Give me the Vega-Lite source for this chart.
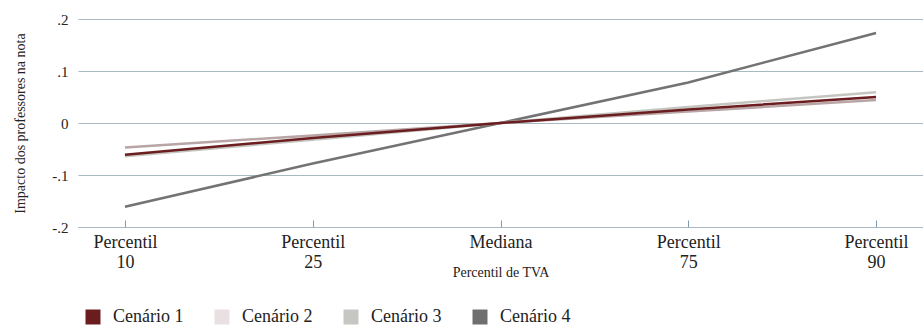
{
  "$schema": "https://vega.github.io/schema/vega-lite/v6.json",
  "width": 845,
  "height": 208,
  "autosize": {"type": "none"},
  "padding": {"left": 78, "top": 19, "right": 0, "bottom": 99},
  "background": "white",
  "config": {
    "view": {"stroke": null},
    "font": "Liberation Serif",
    "axis": {"labelFont": "Liberation Serif", "titleFont": "Liberation Serif"},
    "legend": {"labelFont": "Liberation Serif", "titleFont": "Liberation Serif"}
  },
  "data": {
    "values": [
      {"percentil": "Percentil 10", "cenario": "Cenário 4", "impacto": -0.161},
      {"percentil": "Percentil 25", "cenario": "Cenário 4", "impacto": -0.078},
      {"percentil": "Mediana", "cenario": "Cenário 4", "impacto": 0},
      {"percentil": "Percentil 75", "cenario": "Cenário 4", "impacto": 0.078},
      {"percentil": "Percentil 90", "cenario": "Cenário 4", "impacto": 0.173},
      {"percentil": "Percentil 10", "cenario": "Cenário 3", "impacto": -0.064},
      {"percentil": "Percentil 25", "cenario": "Cenário 3", "impacto": -0.032},
      {"percentil": "Mediana", "cenario": "Cenário 3", "impacto": 0},
      {"percentil": "Percentil 75", "cenario": "Cenário 3", "impacto": 0.031},
      {"percentil": "Percentil 90", "cenario": "Cenário 3", "impacto": 0.059},
      {"percentil": "Percentil 10", "cenario": "Cenário 2", "impacto": -0.047},
      {"percentil": "Percentil 25", "cenario": "Cenário 2", "impacto": -0.024},
      {"percentil": "Mediana", "cenario": "Cenário 2", "impacto": 0},
      {"percentil": "Percentil 75", "cenario": "Cenário 2", "impacto": 0.022},
      {"percentil": "Percentil 90", "cenario": "Cenário 2", "impacto": 0.044},
      {"percentil": "Percentil 10", "cenario": "Cenário 1", "impacto": -0.061},
      {"percentil": "Percentil 25", "cenario": "Cenário 1", "impacto": -0.029},
      {"percentil": "Mediana", "cenario": "Cenário 1", "impacto": 0},
      {"percentil": "Percentil 75", "cenario": "Cenário 1", "impacto": 0.026},
      {"percentil": "Percentil 90", "cenario": "Cenário 1", "impacto": 0.05}
    ]
  },
  "mark": {"type": "line", "strokeWidth": 2.5},
  "encoding": {
    "x": {
      "field": "percentil",
      "type": "ordinal",
      "sort": ["Percentil 10", "Percentil 25", "Mediana", "Percentil 75", "Percentil 90"],
      "scale": {"type": "point", "padding": 0.25},
      "axis": {
        "title": "Percentil de TVA",
        "labelExpr": "split(datum.label, ' ')",
        "labelAngle": 0,
        "labelFont": "Liberation Serif",
        "labelFontSize": 18,
        "labelLineHeight": 20,
        "labelColor": "#222222",
        "labelBaseline": "top",
        "labelPadding": 13,
        "tickSize": -7,
        "tickColor": "#7f9aa6",
        "domainColor": "#a7b9c1",
        "grid": false,
        "titleFont": "Liberation Serif",
        "titleFontSize": 14,
        "titleFontWeight": "normal",
        "titleColor": "#222222",
        "titlePadding": -6
      }
    },
    "y": {
      "field": "impacto",
      "type": "quantitative",
      "scale": {"domain": [-0.2, 0.2], "nice": false, "zero": false},
      "axis": {
        "title": "Impacto dos professores na nota",
        "values": [-0.2, -0.1, 0, 0.1, 0.2],
        "labelExpr": "datum.value == 0 ? '0' : (datum.value < 0 ? '-' : '') + replace(format(abs(datum.value), '.1f'), '0.', '.')",
        "ticks": false,
        "domain": false,
        "gridColor": "#a7b9c1",
        "gridWidth": 1,
        "labelFont": "Liberation Serif",
        "labelFontSize": 15,
        "labelPadding": 10,
        "labelColor": "#222222",
        "titleFont": "Liberation Serif",
        "titleFontSize": 14,
        "titleFontWeight": "normal",
        "titleColor": "#222222",
        "titlePadding": 24
      }
    },
    "color": {
      "field": "cenario",
      "type": "nominal",
      "scale": {
        "domain": ["Cenário 1", "Cenário 2", "Cenário 3", "Cenário 4"],
        "range": ["#6b1d1f", "#b9a5a6", "#c5c6c1", "#737373"]
      },
      "legend": {
        "title": null,
        "orient": "none",
        "direction": "horizontal",
        "legendX": 6,
        "legendY": 289,
        "symbolType": "square",
        "symbolSize": 225,
        "symbolStrokeWidth": 0,
        "labelFont": "Liberation Serif",
        "labelFontSize": 18,
        "labelColor": "#222222",
        "labelOffset": 11,
        "columnPadding": 29,
        "padding": 0,
        "encode": {
          "symbols": {
            "update": {
              "fill": {"signal": "['#6a1c1f','#e9e1e1','#c6c7c3','#6f6f6f'][indexof(['Cenário 1','Cenário 2','Cenário 3','Cenário 4'], datum.value)]"},
              "stroke": {"value": "transparent"},
              "opacity": {"value": 1}
            }
          }
        }
      }
    }
  }
}
